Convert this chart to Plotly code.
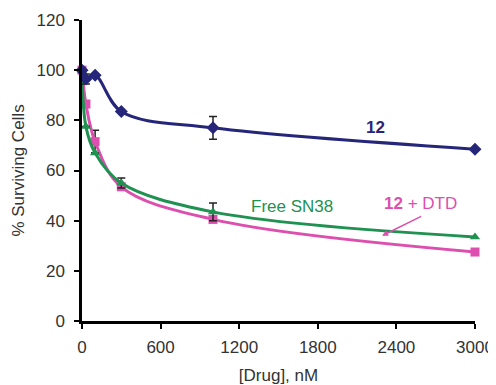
import plotly.graph_objects as go

conc = [0, 30, 100, 300, 1000, 3000]
cmpd12 = [100, 96.5, 98, 83.5, 77, 68.5]
cmpd12_err = [0, 2, 0, 0, 4.5, 0]
dtd = [100, 86.5, 71.5, 53.5, 40.5, 27.5]
dtd_err = [0, 0, 4.5, 0, 0, 0]
sn38 = [100, 77.5, 67, 55, 43.5, 33.5]
sn38_err = [0, 0, 0, 2, 3.5, 0]

x_ticks = [0, 600, 1200, 1800, 2400, 3000]
y_ticks = [0, 20, 40, 60, 80, 100, 120]

BLUE = "#25267a"
PINK = "#dc4fae"
GREEN = "#1f9150"
FONT = "Liberation Sans, Arial, sans-serif"

fig = go.Figure()

def add(y, err, color, symbol, size):
    fig.add_trace(go.Scatter(
        x=conc, y=y, mode="lines+markers",
        line=dict(color=color, width=3, shape="spline", smoothing=1.0),
        marker=dict(symbol=symbol, size=size, color=color),
        error_y=dict(type="data", array=err, visible=True, color="#222", thickness=1.5, width=4),
        cliponaxis=False, showlegend=False))

add(dtd, dtd_err, PINK, "square", 9)
add(sn38, sn38_err, GREEN, "triangle-up", 9)
add(cmpd12, cmpd12_err, BLUE, "diamond", 10)

fig.add_annotation(x=2240, y=77, text="<b>12</b>", showarrow=False,
                   font=dict(color=BLUE, size=17, family=FONT))
fig.add_annotation(x=1605, y=45.5, text="Free SN38", showarrow=False,
                   font=dict(color=GREEN, size=17, family=FONT))
fig.add_annotation(x=2291, y=34, ax=2600, ay=42, axref="x", ayref="y",
                   text="", showarrow=True, arrowhead=2, arrowsize=0.8, arrowwidth=1.5,
                   arrowcolor=PINK)
fig.add_annotation(x=2584, y=47, text="<b>12</b> + DTD", showarrow=False,
                   font=dict(color=PINK, size=17, family=FONT))

axis_common = dict(showline=True, linecolor="black", linewidth=2.5, ticks="outside",
                   ticklen=5, tickwidth=2, tickcolor="black", showgrid=False, zeroline=False,
                   automargin=False,
                   tickfont=dict(size=17, color="#333", family=FONT))

fig.update_xaxes(range=[0, 3000], tickvals=x_ticks, ticklabelstandoff=4,
                 title=dict(text="[Drug], nM", font=dict(size=17, color="#333", family=FONT), standoff=16),
                 **axis_common)
fig.update_yaxes(range=[0, 120], tickvals=y_ticks, ticklabelstandoff=6,
                 title=dict(text="% Surviving Cells", font=dict(size=17, color="#333", family=FONT), standoff=8),
                 **axis_common)

# page body has an 8px margin, so the figure is sized to fill the rest of the window
fig.update_layout(width=488, height=377, margin=dict(l=74, r=21, t=12, b=64),
                  plot_bgcolor="white", paper_bgcolor="white", font=dict(family=FONT))

fig.write_html("out.html")
